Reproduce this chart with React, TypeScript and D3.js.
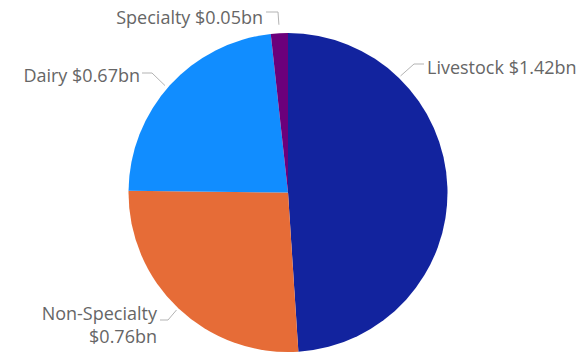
import React from "react";
import * as d3 from "d3";

const categories = ["Livestock", "Non-Specialty", "Dairy", "Specialty"];
const values = [1.42, 0.76, 0.67, 0.05];
const valueLabels = ["$1.42bn", "$0.76bn", "$0.67bn", "$0.05bn"];
const colors = ["#12239E", "#E66C37", "#118DFF", "#6B007B"];

const W = 581;
const H = 354;
const cx = 288;
const cy = 192.5;
const R = 159.5;

// label layout: anchor angle (deg) on the pie edge, elbow, text position
type LabelLayout = {
  angle: number;
  r0: number;
  elbow: [number, number];
  end: [number, number];
  text: [number, number];
  anchor: "start" | "end";
  lines: number;
};

const layouts: LabelLayout[] = [
  { angle: 44, r0: 162, elbow: [414, 64], end: [424, 64], text: [427, 67], anchor: "start", lines: 1 },
  { angle: 223.5, r0: 162, elbow: [168, 320], end: [160, 320], text: [157, 312.5], anchor: "end", lines: 2 },
  { angle: 311, r0: 163, elbow: [152, 73], end: [142, 73], text: [140, 75], anchor: "end", lines: 1 },
  { angle: 356.9, r0: 168, elbow: [278, 12], end: [266, 12], text: [263, 17], anchor: "end", lines: 1 },
];

const FONT = "'Open Sans', sans-serif";
const FS = 18;

export default function App() {
  const pie = d3
    .pie<number>()
    .sort(null)
    .value((d) => d)
    .startAngle(0)
    .endAngle(2 * Math.PI);
  const arcs = pie(values);
  const arc = d3.arc<d3.PieArcDatum<number>>().innerRadius(0).outerRadius(R);

  return (
    <svg width={W} height={H} style={{ position: "absolute", left: 0, top: 0 }}>
      <g transform={`translate(${cx},${cy})`}>
        {arcs.map((a, i) => (
          <path key={i} d={arc(a) || ""} fill={colors[i]} />
        ))}
      </g>
      {layouts.map((l, i) => {
        const rad = (l.angle * Math.PI) / 180;
        const sx = cx + l.r0 * Math.sin(rad);
        const sy = cy - l.r0 * Math.cos(rad);
        const pts = `${sx},${sy} ${l.elbow[0]},${l.elbow[1]} ${l.end[0]},${l.end[1]}`;
        return (
          <g key={i}>
            <polyline points={pts} fill="none" stroke="#b3b3b3" strokeWidth={1} />
            {l.lines === 1 ? (
              <text
                x={l.text[0]}
                y={l.text[1]}
                textAnchor={l.anchor}
                dominantBaseline="central"
                fontFamily={FONT}
                fontSize={FS}
                fill="#666666"
              >
                {categories[i]} {valueLabels[i]}
              </text>
            ) : (
              <text
                x={l.text[0]}
                y={l.text[1]}
                textAnchor={l.anchor}
                dominantBaseline="central"
                fontFamily={FONT}
                fontSize={FS}
                fill="#666666"
              >
                <tspan x={l.text[0]} dy={0}>{categories[i]}</tspan>
                <tspan x={l.text[0]} dy={23}>{valueLabels[i]}</tspan>
              </text>
            )}
          </g>
        );
      })}
    </svg>
  );
}
